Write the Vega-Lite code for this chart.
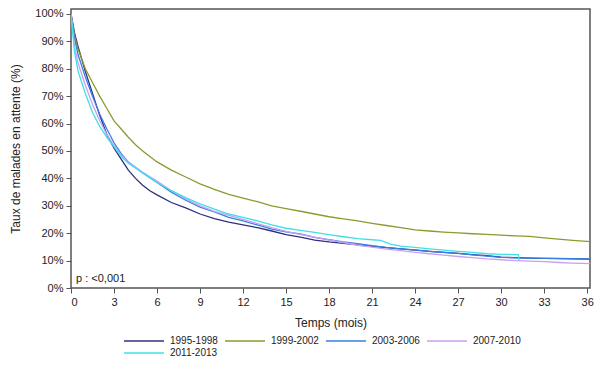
{
  "$schema": "https://vega.github.io/schema/vega-lite/v6.json",
  "autosize": {"type": "none"},
  "width": 519,
  "height": 279,
  "padding": {"left": 71, "top": 9, "right": 10, "bottom": 79},
  "config": {
    "font": "Liberation Sans",
    "view": {"stroke": "#555555", "strokeWidth": 1.5},
    "axis": {"labelFont": "Liberation Sans", "titleFont": "Liberation Sans", "labelFontSize": 11, "titleFontSize": 12, "titleFontWeight": "normal", "labelColor": "#222222", "titleColor": "#222222", "tickColor": "#555555", "tickSize": 5, "grid": false, "domain": false, "labelOverlap": false, "labelBound": false}
  },
  "datasets": {
    "km": [
      {"periode": "1995-1998", "t": 0, "v": 100}, {"periode": "1995-1998", "t": 0.25, "v": 93}, {"periode": "1995-1998", "t": 0.5, "v": 88}, {"periode": "1995-1998", "t": 1, "v": 79}, {"periode": "1995-1998", "t": 1.5, "v": 71}, {"periode": "1995-1998", "t": 2, "v": 63}, {"periode": "1995-1998", "t": 2.5, "v": 56}, {"periode": "1995-1998", "t": 3, "v": 51}, {"periode": "1995-1998", "t": 3.5, "v": 47}, {"periode": "1995-1998", "t": 4, "v": 43}, {"periode": "1995-1998", "t": 4.5, "v": 40}, {"periode": "1995-1998", "t": 5, "v": 37.5}, {"periode": "1995-1998", "t": 5.5, "v": 35.5}, {"periode": "1995-1998", "t": 6, "v": 34}, {"periode": "1995-1998", "t": 7, "v": 31.2}, {"periode": "1995-1998", "t": 8, "v": 29.2}, {"periode": "1995-1998", "t": 9, "v": 27}, {"periode": "1995-1998", "t": 10, "v": 25.3}, {"periode": "1995-1998", "t": 11, "v": 24}, {"periode": "1995-1998", "t": 12, "v": 23}, {"periode": "1995-1998", "t": 13, "v": 22}, {"periode": "1995-1998", "t": 14, "v": 20.8}, {"periode": "1995-1998", "t": 15, "v": 19.5}, {"periode": "1995-1998", "t": 16, "v": 18.6}, {"periode": "1995-1998", "t": 17, "v": 17.5}, {"periode": "1995-1998", "t": 18, "v": 16.8}, {"periode": "1995-1998", "t": 19, "v": 16.3}, {"periode": "1995-1998", "t": 20, "v": 15.7}, {"periode": "1995-1998", "t": 21, "v": 15.2}, {"periode": "1995-1998", "t": 22, "v": 14.7}, {"periode": "1995-1998", "t": 23, "v": 14.3}, {"periode": "1995-1998", "t": 24, "v": 13.8}, {"periode": "1995-1998", "t": 25, "v": 13.4}, {"periode": "1995-1998", "t": 26, "v": 13}, {"periode": "1995-1998", "t": 27, "v": 12.6}, {"periode": "1995-1998", "t": 28, "v": 12.2}, {"periode": "1995-1998", "t": 29, "v": 11.8}, {"periode": "1995-1998", "t": 30, "v": 11.3}, {"periode": "1995-1998", "t": 31, "v": 11.1}, {"periode": "1995-1998", "t": 32, "v": 10.9}, {"periode": "1995-1998", "t": 33, "v": 10.8}, {"periode": "1995-1998", "t": 34, "v": 10.7}, {"periode": "1995-1998", "t": 35, "v": 10.6}, {"periode": "1995-1998", "t": 36.2, "v": 10.5},
      {"periode": "1999-2002", "t": 0, "v": 100}, {"periode": "1999-2002", "t": 0.25, "v": 92}, {"periode": "1999-2002", "t": 0.5, "v": 87}, {"periode": "1999-2002", "t": 1, "v": 80}, {"periode": "1999-2002", "t": 1.5, "v": 75}, {"periode": "1999-2002", "t": 2, "v": 70}, {"periode": "1999-2002", "t": 2.5, "v": 65.5}, {"periode": "1999-2002", "t": 3, "v": 61}, {"periode": "1999-2002", "t": 3.5, "v": 58}, {"periode": "1999-2002", "t": 4, "v": 55}, {"periode": "1999-2002", "t": 4.5, "v": 52.3}, {"periode": "1999-2002", "t": 5, "v": 50}, {"periode": "1999-2002", "t": 6, "v": 46}, {"periode": "1999-2002", "t": 7, "v": 43}, {"periode": "1999-2002", "t": 8, "v": 40.5}, {"periode": "1999-2002", "t": 9, "v": 38}, {"periode": "1999-2002", "t": 10, "v": 36}, {"periode": "1999-2002", "t": 11, "v": 34.2}, {"periode": "1999-2002", "t": 12, "v": 32.8}, {"periode": "1999-2002", "t": 13, "v": 31.5}, {"periode": "1999-2002", "t": 14, "v": 30}, {"periode": "1999-2002", "t": 15, "v": 29}, {"periode": "1999-2002", "t": 16, "v": 28}, {"periode": "1999-2002", "t": 17, "v": 27}, {"periode": "1999-2002", "t": 18, "v": 26}, {"periode": "1999-2002", "t": 19, "v": 25.2}, {"periode": "1999-2002", "t": 20, "v": 24.5}, {"periode": "1999-2002", "t": 21, "v": 23.6}, {"periode": "1999-2002", "t": 22, "v": 22.8}, {"periode": "1999-2002", "t": 23, "v": 22}, {"periode": "1999-2002", "t": 24, "v": 21.2}, {"periode": "1999-2002", "t": 25, "v": 20.8}, {"periode": "1999-2002", "t": 26, "v": 20.4}, {"periode": "1999-2002", "t": 27, "v": 20.1}, {"periode": "1999-2002", "t": 28, "v": 19.8}, {"periode": "1999-2002", "t": 29, "v": 19.6}, {"periode": "1999-2002", "t": 30, "v": 19.3}, {"periode": "1999-2002", "t": 31, "v": 19}, {"periode": "1999-2002", "t": 32, "v": 18.8}, {"periode": "1999-2002", "t": 33, "v": 18.3}, {"periode": "1999-2002", "t": 34, "v": 17.8}, {"periode": "1999-2002", "t": 35, "v": 17.4}, {"periode": "1999-2002", "t": 36.2, "v": 16.9},
      {"periode": "2003-2006", "t": 0, "v": 100}, {"periode": "2003-2006", "t": 0.25, "v": 91}, {"periode": "2003-2006", "t": 0.5, "v": 85}, {"periode": "2003-2006", "t": 1, "v": 77}, {"periode": "2003-2006", "t": 1.5, "v": 70}, {"periode": "2003-2006", "t": 2, "v": 63.5}, {"periode": "2003-2006", "t": 2.5, "v": 58}, {"periode": "2003-2006", "t": 3, "v": 53}, {"periode": "2003-2006", "t": 3.5, "v": 49}, {"periode": "2003-2006", "t": 4, "v": 46}, {"periode": "2003-2006", "t": 5, "v": 42}, {"periode": "2003-2006", "t": 6, "v": 38.5}, {"periode": "2003-2006", "t": 7, "v": 35}, {"periode": "2003-2006", "t": 8, "v": 32}, {"periode": "2003-2006", "t": 9, "v": 29.5}, {"periode": "2003-2006", "t": 10, "v": 27.8}, {"periode": "2003-2006", "t": 11, "v": 25.8}, {"periode": "2003-2006", "t": 12, "v": 24.5}, {"periode": "2003-2006", "t": 13, "v": 23}, {"periode": "2003-2006", "t": 14, "v": 21.5}, {"periode": "2003-2006", "t": 15, "v": 20.5}, {"periode": "2003-2006", "t": 16, "v": 19.7}, {"periode": "2003-2006", "t": 17, "v": 18.5}, {"periode": "2003-2006", "t": 18, "v": 17.6}, {"periode": "2003-2006", "t": 19, "v": 16.8}, {"periode": "2003-2006", "t": 20, "v": 16.2}, {"periode": "2003-2006", "t": 21, "v": 15.5}, {"periode": "2003-2006", "t": 22, "v": 14.8}, {"periode": "2003-2006", "t": 23, "v": 14.3}, {"periode": "2003-2006", "t": 24, "v": 13.9}, {"periode": "2003-2006", "t": 25, "v": 13.4}, {"periode": "2003-2006", "t": 26, "v": 13}, {"periode": "2003-2006", "t": 27, "v": 12.6}, {"periode": "2003-2006", "t": 28, "v": 12.1}, {"periode": "2003-2006", "t": 29, "v": 11.6}, {"periode": "2003-2006", "t": 30, "v": 11.2}, {"periode": "2003-2006", "t": 31, "v": 11}, {"periode": "2003-2006", "t": 32, "v": 10.9}, {"periode": "2003-2006", "t": 33, "v": 10.8}, {"periode": "2003-2006", "t": 34, "v": 10.8}, {"periode": "2003-2006", "t": 35, "v": 10.7}, {"periode": "2003-2006", "t": 36.2, "v": 10.6},
      {"periode": "2007-2010", "t": 0, "v": 100}, {"periode": "2007-2010", "t": 0.25, "v": 88}, {"periode": "2007-2010", "t": 0.5, "v": 82}, {"periode": "2007-2010", "t": 1, "v": 74}, {"periode": "2007-2010", "t": 1.5, "v": 67}, {"periode": "2007-2010", "t": 2, "v": 61}, {"periode": "2007-2010", "t": 2.5, "v": 56}, {"periode": "2007-2010", "t": 3, "v": 52}, {"periode": "2007-2010", "t": 3.5, "v": 48.5}, {"periode": "2007-2010", "t": 4, "v": 46}, {"periode": "2007-2010", "t": 5, "v": 42.2}, {"periode": "2007-2010", "t": 6, "v": 39}, {"periode": "2007-2010", "t": 7, "v": 35.5}, {"periode": "2007-2010", "t": 8, "v": 32.5}, {"periode": "2007-2010", "t": 9, "v": 30}, {"periode": "2007-2010", "t": 10, "v": 28}, {"periode": "2007-2010", "t": 11, "v": 26.5}, {"periode": "2007-2010", "t": 12, "v": 25}, {"periode": "2007-2010", "t": 13, "v": 23.5}, {"periode": "2007-2010", "t": 14, "v": 22}, {"periode": "2007-2010", "t": 15, "v": 20.7}, {"periode": "2007-2010", "t": 16, "v": 19.6}, {"periode": "2007-2010", "t": 17, "v": 18.6}, {"periode": "2007-2010", "t": 18, "v": 17.6}, {"periode": "2007-2010", "t": 19, "v": 16.6}, {"periode": "2007-2010", "t": 20, "v": 15.6}, {"periode": "2007-2010", "t": 21, "v": 14.9}, {"periode": "2007-2010", "t": 22, "v": 14.2}, {"periode": "2007-2010", "t": 23, "v": 13.6}, {"periode": "2007-2010", "t": 24, "v": 13}, {"periode": "2007-2010", "t": 25, "v": 12.5}, {"periode": "2007-2010", "t": 26, "v": 12}, {"periode": "2007-2010", "t": 27, "v": 11.5}, {"periode": "2007-2010", "t": 28, "v": 11.1}, {"periode": "2007-2010", "t": 29, "v": 10.6}, {"periode": "2007-2010", "t": 30, "v": 10.3}, {"periode": "2007-2010", "t": 31, "v": 10}, {"periode": "2007-2010", "t": 32, "v": 9.8}, {"periode": "2007-2010", "t": 33, "v": 9.6}, {"periode": "2007-2010", "t": 34, "v": 9.3}, {"periode": "2007-2010", "t": 35, "v": 9.1}, {"periode": "2007-2010", "t": 36.2, "v": 8.9},
      {"periode": "2011-2013", "t": 0, "v": 100}, {"periode": "2011-2013", "t": 0.25, "v": 86}, {"periode": "2011-2013", "t": 0.5, "v": 79}, {"periode": "2011-2013", "t": 1, "v": 71}, {"periode": "2011-2013", "t": 1.5, "v": 64}, {"periode": "2011-2013", "t": 2, "v": 59}, {"periode": "2011-2013", "t": 2.5, "v": 55}, {"periode": "2011-2013", "t": 3, "v": 51.5}, {"periode": "2011-2013", "t": 3.5, "v": 48}, {"periode": "2011-2013", "t": 4, "v": 45.5}, {"periode": "2011-2013", "t": 5, "v": 42}, {"periode": "2011-2013", "t": 6, "v": 38.5}, {"periode": "2011-2013", "t": 7, "v": 35.5}, {"periode": "2011-2013", "t": 8, "v": 33}, {"periode": "2011-2013", "t": 9, "v": 30.7}, {"periode": "2011-2013", "t": 10, "v": 28.8}, {"periode": "2011-2013", "t": 11, "v": 27}, {"periode": "2011-2013", "t": 12, "v": 25.8}, {"periode": "2011-2013", "t": 13, "v": 24.5}, {"periode": "2011-2013", "t": 14, "v": 23}, {"periode": "2011-2013", "t": 15, "v": 21.8}, {"periode": "2011-2013", "t": 16, "v": 21}, {"periode": "2011-2013", "t": 17, "v": 20.3}, {"periode": "2011-2013", "t": 18, "v": 19.5}, {"periode": "2011-2013", "t": 19, "v": 18.7}, {"periode": "2011-2013", "t": 20, "v": 18}, {"periode": "2011-2013", "t": 21, "v": 17.6}, {"periode": "2011-2013", "t": 21.6, "v": 17.4}, {"periode": "2011-2013", "t": 22.3, "v": 16}, {"periode": "2011-2013", "t": 23, "v": 15.3}, {"periode": "2011-2013", "t": 24, "v": 14.8}, {"periode": "2011-2013", "t": 25, "v": 14.3}, {"periode": "2011-2013", "t": 26, "v": 13.8}, {"periode": "2011-2013", "t": 27, "v": 13.4}, {"periode": "2011-2013", "t": 28, "v": 13}, {"periode": "2011-2013", "t": 29, "v": 12.5}, {"periode": "2011-2013", "t": 30, "v": 12.3}, {"periode": "2011-2013", "t": 31.2, "v": 12.2}, {"periode": "2011-2013", "t": 31.25, "v": 10.2}
    ],
    "note": [{"t": 0.35, "v": 3.4, "label": "p : <0,001"}]
  },
  "encoding": {
    "x": {"field": "t", "type": "quantitative", "scale": {"domain": [0, 36.2], "nice": false, "zero": false}, "axis": {"values": [0,3,6,9,12,15,18,21,24,27,30,33,36], "title": "Temps (mois)", "labelPadding": 3, "titlePadding": 10}},
    "y": {"field": "v", "type": "quantitative", "scale": {"domain": [0, 101.8], "nice": false}, "axis": {"values": [0,10,20,30,40,50,60,70,80,90,100], "tickCount": 11, "labelExpr": "datum.value + '%'", "title": "Taux de malades en attente (%)", "labelPadding": 3, "titlePadding": 12}}
  },
  "layer": [
    {
      "data": {"name": "km"},
      "mark": {"type": "line", "strokeWidth": 1.3, "clip": true},
      "encoding": {
        "color": {"field": "periode", "type": "nominal", "scale": {"domain": ["1995-1998", "1999-2002", "2003-2006", "2007-2010", "2011-2013"], "range": ["#2e2f7f", "#8a9b2e", "#3a7fe0", "#c6a2f0", "#3fe0ea"]},
          "legend": {"title": null, "orient": "none", "legendX": 67, "legendY": 326, "direction": "horizontal", "columns": 4, "symbolType": "M-4,0H4", "symbolSize": 100, "symbolStrokeWidth": 1.5, "labelFont": "Liberation Sans", "labelFontSize": 10, "labelColor": "#222222", "labelOffset": 20, "columnPadding": 4, "rowPadding": 1}}
      }
    },
    {
      "data": {"name": "note"},
      "mark": {"type": "text", "align": "left", "baseline": "middle", "fontSize": 11, "font": "Liberation Sans", "color": "#222222"},
      "encoding": {
        "text": {"field": "label"}
      }
    }
  ]
}
